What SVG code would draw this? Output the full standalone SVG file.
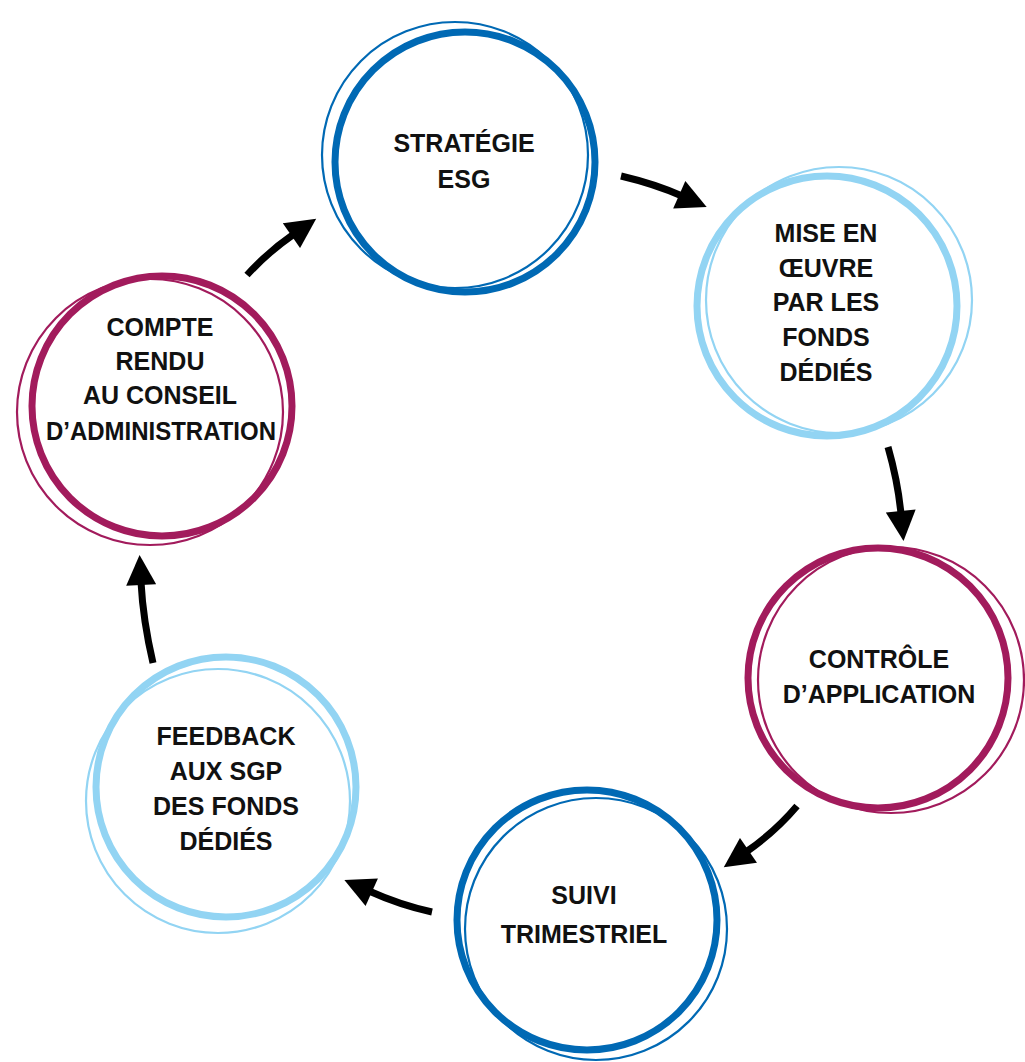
<svg xmlns="http://www.w3.org/2000/svg" width="1025" height="1062" viewBox="0 0 1025 1062">
<defs>
<style>
.thick{fill:none;stroke-width:7}
.thin{fill:none;stroke-width:2.2}
.db{stroke:#0069b4}
.lb{stroke:#92d4f3}
.mg{stroke:#a21b5c}
.lbl{font-family:"Liberation Sans",Arial,sans-serif;font-weight:bold;font-size:25px;fill:#111;text-anchor:middle}
.arr{fill:none;stroke:#000;stroke-width:7;marker-end:url(#ah)}
</style>
<marker id="ah" viewBox="0 0 10 10" refX="1" refY="5" markerWidth="32" markerHeight="30" markerUnits="userSpaceOnUse" orient="auto">
<path d="M0,0 L10,5 L0,10 z" fill="#000"/>
</marker>
</defs>
<rect width="1025" height="1062" fill="#fff"/>
<g id="n1">
<circle class="thin db" cx="455" cy="155" r="133"/>
<circle class="thick db" cx="465" cy="162" r="130"/>
<text class="lbl" x="464" y="152">STRATÉGIE</text>
<text class="lbl" x="464" y="188">ESG</text>
</g>
<g id="n2">
<circle class="thin lb" cx="839" cy="300" r="133"/>
<circle class="thick lb" cx="827" cy="306" r="130"/>
<text class="lbl" x="826" y="242">MISE EN</text>
<text class="lbl" x="826" y="277">ŒUVRE</text>
<text class="lbl" x="826" y="311">PAR LES</text>
<text class="lbl" x="826" y="346">FONDS</text>
<text class="lbl" x="826" y="381">DÉDIÉS</text>
</g>
<g id="n3">
<circle class="thin mg" cx="891" cy="680" r="133"/>
<circle class="thick mg" cx="878" cy="678" r="130"/>
<text class="lbl" x="879" y="668">CONTRÔLE</text>
<text class="lbl" x="879" y="703">D’APPLICATION</text>
</g>
<g id="n4">
<circle class="thin db" cx="596" cy="929" r="131"/>
<circle class="thick db" cx="587" cy="920" r="130"/>
<text class="lbl" x="584" y="904">SUIVI</text>
<text class="lbl" x="584" y="943">TRIMESTRIEL</text>
</g>
<g id="n5">
<circle class="thin lb" cx="218" cy="801" r="132"/>
<circle class="thick lb" cx="226" cy="787" r="130"/>
<text class="lbl" x="226" y="745">FEEDBACK</text>
<text class="lbl" x="226" y="780">AUX SGP</text>
<text class="lbl" x="226" y="815">DES FONDS</text>
<text class="lbl" x="226" y="850">DÉDIÉS</text>
</g>
<g id="n6">
<circle class="thin mg" cx="150" cy="412" r="133"/>
<circle class="thick mg" cx="162" cy="406" r="130"/>
<text class="lbl" x="160" y="336">COMPTE</text>
<text class="lbl" x="160" y="370">RENDU</text>
<text class="lbl" x="160" y="404">AU CONSEIL</text>
<text class="lbl" x="161" y="440" textLength="230" lengthAdjust="spacingAndGlyphs">D’ADMINISTRATION</text>
</g>
<g id="connectors">
<path class="arr" d="M621,176 Q655,184 682,196"/>
<path class="arr" d="M888,447 Q898,482 901,514"/>
<path class="arr" d="M797,806 Q775,832 746,852"/>
<path class="arr" d="M432,912 Q400,905 369,891"/>
<path class="arr" d="M153,663 Q143,620 141,582"/>
<path class="arr" d="M247,275 Q268,252 294,234"/>
</g>
</svg>
